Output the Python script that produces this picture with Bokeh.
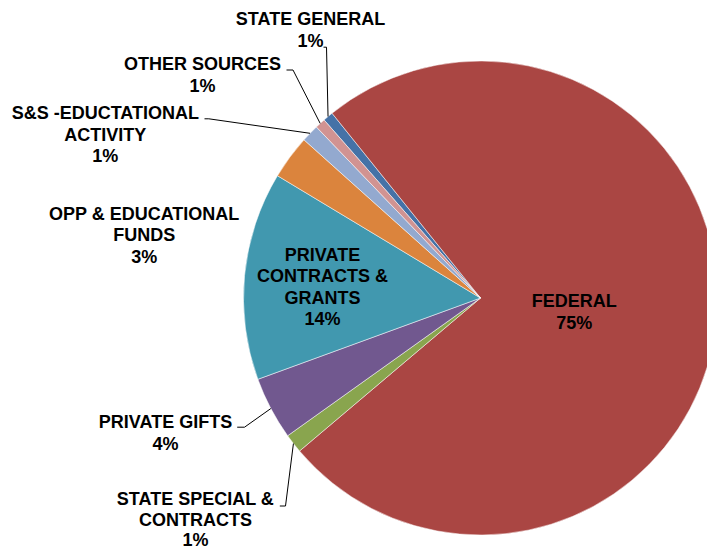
import math
from bokeh.plotting import figure
from bokeh.models import Range1d, ColumnDataSource
from bokeh.core.properties import value
from bokeh.embed import file_html
from bokeh.resources import INLINE

# ---------------- data ----------------
categories = ["STATE GENERAL", "FEDERAL", "STATE SPECIAL & CONTRACTS", "PRIVATE GIFTS",
              "PRIVATE CONTRACTS & GRANTS", "OPP & EDUCATIONAL FUNDS",
              "S&S -EDUCTATIONAL ACTIVITY", "OTHER SOURCES"]
label_lines = [["STATE GENERAL"], ["FEDERAL"], ["STATE SPECIAL &", "CONTRACTS"], ["PRIVATE GIFTS"],
               ["PRIVATE", "CONTRACTS &", "GRANTS"], ["OPP & EDUCATIONAL", "FUNDS"],
               ["S&S -EDUCTATIONAL", "ACTIVITY"], ["OTHER SOURCES"]]
shares = [0.7, 74.6, 1.3, 4.3, 14.2, 3.0, 1.2, 0.7]
colors = ["#4572A7", "#AA4643", "#89A54E", "#71588F", "#4198AF", "#DB843D", "#93A9CF", "#D19392"]

# ---------------- layout ----------------
W, H = 707, 552
X0, Y0 = 0, 0                  # page offset of the plot canvas
CX, CY = 480.0, 297.5          # pie centre in page pixels
R = 237.0
START_CW = 318.7               # first slice start, degrees clockwise from 12 o'clock
FONT = "Liberation Sans"
FS = "18px"
PITCH = 21.3
TEXT_DY = -6.5                 # correction so rendered baselines land where wanted

def px(x):
    return x - CX

def py(y):
    return CY - y

# label anchors: (centre x, first baseline y, line pitch) in page px; leader elbow (x0, x1, y) or None
label_pos = [
    (310.0, 25.3, PITCH, (323.0, 326.0, 46.7)),
    (573.7, 307.3, PITCH, None),
    (195.0, 505.0, 20.6, (279.3, 285.0, 505.5)),
    (165.0, 428.3, PITCH, (236.7, 244.0, 426.7)),
    (322.0, 261.0, PITCH, None),
    (143.8, 220.0, PITCH, None),
    (104.8, 119.3, PITCH, (204.0, 208.3, 118.3)),
    (202.0, 70.4, PITCH, (286.0, 292.5, 69.5)),
]

total = sum(shares)
starts, ends, mids = [], [], []
cum = 0.0
for s in shares:
    cw0 = START_CW + cum / total * 360.0
    cw1 = START_CW + (cum + s) / total * 360.0
    cum += s
    starts.append(math.radians(90.0 - cw1))
    ends.append(math.radians(90.0 - cw0))
    mids.append(math.radians(90.0 - (cw0 + cw1) / 2.0))

src = ColumnDataSource(dict(cat=categories, share=shares, color=colors,
                            start=starts, end=ends))

p = figure(width=W, height=H, output_backend="svg", toolbar_location=None,
           x_range=Range1d(px(X0), px(X0 + W)), y_range=Range1d(py(Y0 + H), py(Y0)),
           min_border=0, background_fill_color="white", border_fill_color="white")
p.axis.visible = False
p.grid.visible = False
p.outline_line_color = None

p.wedge(x=0, y=0, radius=R, start_angle="start", end_angle="end", fill_color="color",
        line_color="white", line_width=0.5, source=src)

tx, ty, tt = [], [], []
for i, (lines, s) in enumerate(zip(label_lines, shares)):
    ax, ay, pitch, leader = label_pos[i]
    all_lines = lines + [f"{round(100 * s / total)}%"]
    for k, t in enumerate(all_lines):
        tx.append(px(ax))
        ty.append(py(ay + k * pitch + TEXT_DY))
        tt.append(t)
    if leader is not None:
        x0, x1, ly = leader
        ex = R * math.cos(mids[i])
        ey = R * math.sin(mids[i])
        p.line([px(x0), px(x1), ex], [py(ly), py(ly), ey], line_color="#000000", line_width=1)

p.text(x=tx, y=ty, text=tt, text_font=value(FONT), text_font_style="bold",
       text_font_size=FS, text_align="center", text_baseline="alphabetic", text_color="#000000")

open("out.html", "w").write(file_html(p, INLINE))
